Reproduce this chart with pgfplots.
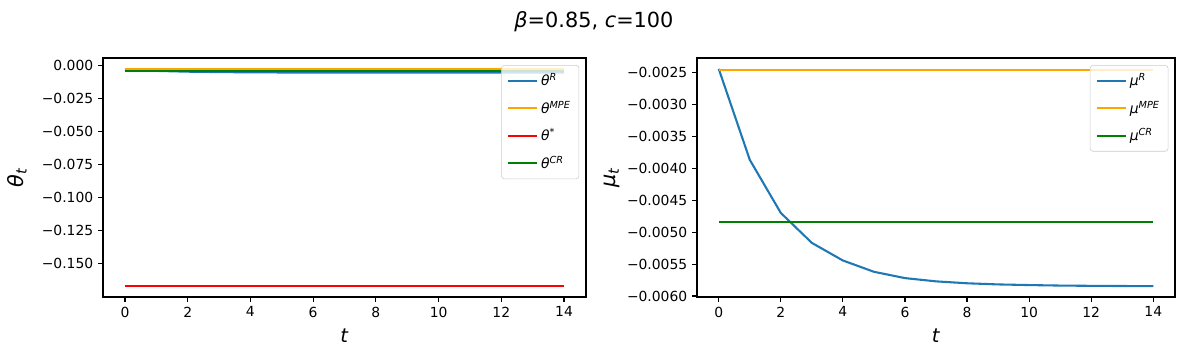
\documentclass[border=0pt]{standalone}
\usepackage{fontspec}
\setmainfont{DejaVu Sans}
\usepackage{pgfplots}
\pgfplotsset{compat=1.18}
\definecolor{tabblue}{HTML}{1F77B4}
\definecolor{mplorange}{HTML}{FFA500}
\definecolor{mplgreen}{HTML}{008000}
\newcommand{\sv}[2]{\textit{#1}\textsuperscript{\textit{#2}}}
\pgfplotsset{common/.style={
  scale only axis, height=172.08pt,
  xmin=-0.7, xmax=14.7, xtick={0,2,...,14},
  scaled y ticks=false,
  tick align=outside, tick pos=left, major tick length=3.5pt,
  every tick/.style={black, line width=0.8pt},
  axis line style={line width=0.8pt},
  ticklabel style={font=\fontsize{10}{12}\selectfont},
  /pgf/number format/assume math mode=true,
  xlabel={\fontsize{14}{16}\selectfont\textit{t}},
  every axis x label/.style={at={(axis description cs:0.5,-0.163)}, anchor=center},
  every axis y label/.style={at={(axis description cs:-0.178,0.5)}, rotate=90, anchor=center},
  legend style={draw=black!20, rounded corners=2pt, fill=white, fill opacity=0.8, text opacity=1,
    anchor=north east, at={(0.986,0.97)}, font=\fontsize{10}{12}\selectfont, row sep=5.5pt, inner sep=4pt},
  legend image code/.code={\draw[#1, line width=1.5pt] (0pt,0pt) -- (21pt,0pt);},
  legend cell align=left,
}}
\begin{document}
\begin{tikzpicture}
\path[use as bounding box] (-74.16pt,-42.48pt) rectangle (781.92pt,213.84pt);
\begin{axis}[common, width=347.76pt,
  ymin=-0.1757, ymax=0.0058,
  ytick={0,-0.025,-0.05,-0.075,-0.1,-0.125,-0.15},
  yticklabels={0.000,−0.025,−0.050,−0.075,−0.100,−0.125,−0.150},
  ylabel={\fontsize{15}{17}\selectfont\textit{θ}\textsubscript{\textit{t}}}]
\addplot[tabblue, line width=1.5pt] coordinates {(0,-0.0030) (1,-0.0040) (2,-0.0046) (3,-0.0049) (4,-0.0051) (5,-0.0052) (6,-0.0052) (7,-0.0053) (8,-0.0053) (9,-0.0053) (10,-0.0053) (11,-0.0053) (12,-0.0053) (13,-0.0053) (14,-0.0053)};
\addlegendentry{\sv{θ}{R}}
\addplot[mplorange, line width=1.5pt] coordinates {(0,-0.0023) (14,-0.0023)};
\addlegendentry{\sv{θ}{MPE}}
\addplot[red, line width=1.5pt] coordinates {(0,-0.1675) (14,-0.1675)};
\addlegendentry{\sv{θ}{*}}
\addplot[mplgreen, line width=1.5pt] coordinates {(0,-0.0043) (14,-0.0043)};
\addlegendentry{\sv{θ}{CR}}
\end{axis}
\begin{axis}[common, width=344.16pt, at={(427.68pt,0pt)},
  ymin=-0.006015, ymax=-0.00227,
  ytick={-0.0025,-0.003,-0.0035,-0.004,-0.0045,-0.005,-0.0055,-0.006},
  yticklabels={−0.0025,−0.0030,−0.0035,−0.0040,−0.0045,−0.0050,−0.0055,−0.0060},
  ylabel={\fontsize{15}{17}\selectfont\textit{μ}\textsubscript{\textit{t}}}]
\addplot[tabblue, line width=1.5pt] coordinates {(0,-0.00244) (1,-0.003865) (2,-0.004698) (3,-0.005167) (4,-0.005443) (5,-0.00562) (6,-0.005719) (7,-0.00577) (8,-0.0058) (9,-0.005818) (10,-0.005828) (11,-0.005836) (12,-0.00584) (13,-0.005843) (14,-0.005845)};
\addlegendentry{\sv{μ}{R}}
\addplot[mplorange, line width=1.5pt] coordinates {(0,-0.00246) (14,-0.00246)};
\addlegendentry{\sv{μ}{MPE}}
\addplot[mplgreen, line width=1.5pt] coordinates {(0,-0.004845) (14,-0.004845)};
\addlegendentry{\sv{μ}{CR}}
\end{axis}
\node[font=\fontsize{15}{18}\selectfont] at (353.5pt,198pt) {\textit{β}=0.85, \textit{c}=100};
\end{tikzpicture}
\end{document}
